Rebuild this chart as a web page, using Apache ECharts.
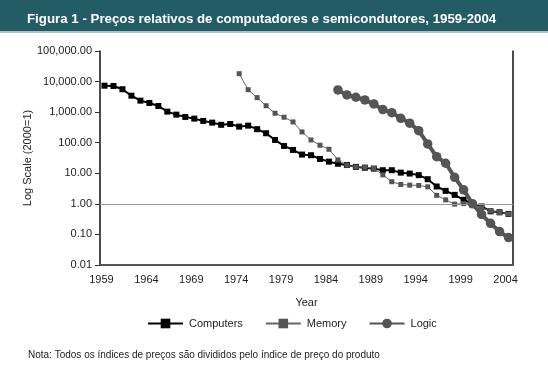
<!DOCTYPE html>
<html>
<head>
<meta charset="utf-8">
<script src="https://cdn.jsdelivr.net/npm/echarts@6/dist/echarts.min.js"></script>
<style>
html,body{margin:0;padding:0;background:#fff;}
#chart{width:548px;height:371px;}
</style>
</head>
<body>
<div id="chart"></div>
<script>
var titleText = 'Figura 1 - Preços relativos de computadores e semicondutores, 1959-2004';
var noteText = 'Nota: Todos os índices de preços são divididos pelo índice de preço do produto';
var yAxisName = 'Log Scale (2000=1)';
var xAxisName = 'Year';

var years = ['1959','1960','1961','1962','1963','1964','1965','1966','1967','1968',
             '1969','1970','1971','1972','1973','1974','1975','1976','1977','1978',
             '1979','1980','1981','1982','1983','1984','1985','1986','1987','1988',
             '1989','1990','1991','1992','1993','1994','1995','1996','1997','1998',
             '1999','2000','2001','2002','2003','2004'];

var computers = [7340, 7180, 5620, 3450, 2380, 2000, 1590, 1040, 828, 697,
                 614, 516, 454, 385, 410, 336, 362, 277, 204, 123,
                 78.5, 58, 41, 39, 29.5, 24, 20.5, 18.6, 16.2, 15.2,
                 14.2, 12.6, 12.6, 10.5, 9.8, 8.7, 6.4, 3.7, 2.66, 1.97,
                 1.36, 1.0, 0.82, 0.57, 0.53, 0.47];

var memory = [null, null, null, null, null, null, null, null, null, null,
              null, null, null, null, null, 18100, 5430, 2980, 1620, 920,
              681, 478, 225, 123, 82.6, 61, 27.4, 18.4, 16.2, 15.8,
              14.5, 8.9, 5.3, 4.3, 4.1, 4.0, 3.6, 1.9, 1.35, 0.98,
              1.02, 1.0, 0.75, 0.58, 0.52, 0.47];

var logic = [null, null, null, null, null, null, null, null, null, null,
             null, null, null, null, null, null, null, null, null, null,
             null, null, null, null, null, null, 5310, 3650, 3070, 2500,
             1850, 1210, 964, 630, 434, 248, 91, 35, 21.3, 7.4,
             2.87, 1.0, 0.45, 0.23, 0.124, 0.079];

var FONT = 'Liberation Sans, Arial, Helvetica, sans-serif';

function fmt(v) {
  var s = Number(v).toFixed(2);
  var parts = s.split('.');
  parts[0] = parts[0].replace(/\B(?=(\d{3})+(?!\d))/g, ',');
  return parts.join('.');
}

var chart = echarts.init(document.getElementById('chart'), null, {renderer: 'canvas'});
chart.setOption({
  animation: false,
  backgroundColor: '#fff',
  textStyle: {fontFamily: FONT},
  title: {
    text: titleText,
    left: 22,
    top: 8,
    textStyle: {color: '#fff', fontSize: 13.3, fontWeight: 'bold', fontFamily: FONT}
  },
  graphic: [
    {type: 'rect', left: 0, top: 0, z: -1, shape: {width: 548, height: 31}, style: {fill: '#245c66'}},
    {type: 'rect', left: 0, top: 31, z: -1, shape: {width: 548, height: 2}, style: {fill: '#a9c3c7'}},
    {type: 'text', left: 28, top: 350, style: {text: noteText, fill: '#222', fontSize: 10, fontFamily: FONT}}
  ],
  legend: {
    left: 142,
    top: 313,
    itemWidth: 35,
    itemHeight: 12,
    itemGap: 22,
    textStyle: {fontSize: 11, color: '#222', fontFamily: FONT, padding: [0, 0, 0, 1]},
    data: ['Computers', 'Memory', 'Logic']
  },
  grid: {left: 100, right: 35, top: 51, bottom: 106, containLabel: false},
  xAxis: {
    type: 'category',
    data: years,
    boundaryGap: true,
    name: xAxisName,
    nameLocation: 'middle',
    nameGap: 32,
    nameTextStyle: {fontSize: 11, color: '#222', fontFamily: FONT},
    axisLine: {lineStyle: {color: '#555', width: 2}},
    axisTick: {show: false},
    axisLabel: {interval: 4, fontSize: 11, color: '#222', margin: 9, padding: [0, 6, 0, 0], fontFamily: FONT},
    splitLine: {show: false}
  },
  yAxis: [{
    type: 'log',
    logBase: 10,
    min: 0.01,
    max: 100000,
    splitNumber: 7,
    name: yAxisName,
    nameLocation: 'middle',
    nameGap: 67,
    nameRotate: 90,
    nameMoveOverlap: false,
    nameTextStyle: {fontSize: 11, color: '#222', fontFamily: FONT},
    axisLine: {show: true, lineStyle: {color: '#111', width: 1.5}},
    axisTick: {show: true, length: 5, lineStyle: {color: '#333'}},
    axisLabel: {fontSize: 11, color: '#222', margin: 8, formatter: fmt, fontFamily: FONT},
    splitLine: {show: false}
  }, {
    type: 'log',
    logBase: 10,
    min: 0.01,
    max: 100000,
    position: 'right',
    axisLine: {show: true, lineStyle: {color: '#111', width: 1.5}},
    axisTick: {show: false},
    axisLabel: {show: false},
    splitLine: {show: false}
  }],
  series: [
    {
      name: 'Computers',
      type: 'line',
      data: computers,
      symbol: 'rect',
      symbolSize: 6,
      showSymbol: true,
      showAllSymbol: true,
      lineStyle: {color: '#000', width: 2},
      itemStyle: {color: '#000'},
      z: 3,
      markLine: {
        silent: true,
        symbol: 'none',
        label: {show: false},
        lineStyle: {color: '#999', width: 1, type: 'solid'},
        data: [{yAxis: 1}]
      }
    },
    {
      name: 'Memory',
      type: 'line',
      data: memory,
      symbol: 'rect',
      symbolSize: 5,
      showSymbol: true,
      showAllSymbol: true,
      lineStyle: {color: '#666', width: 1},
      itemStyle: {color: '#555'},
      z: 4
    },
    {
      name: 'Logic',
      type: 'line',
      data: logic,
      symbol: 'circle',
      symbolSize: 9.5,
      showSymbol: true,
      showAllSymbol: true,
      lineStyle: {color: '#555', width: 4},
      itemStyle: {color: '#555'},
      z: 5
    }
  ]
});
</script>
</body>
</html>
